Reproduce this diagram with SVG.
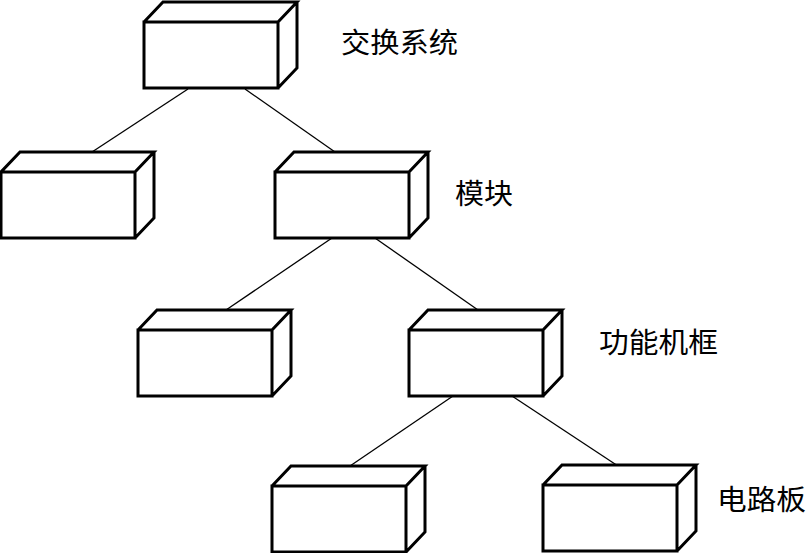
<svg xmlns="http://www.w3.org/2000/svg" xmlns:xlink="http://www.w3.org/1999/xlink" width="808" height="553" viewBox="0 0 808 553">
<style>
.box{fill:#fff;stroke:#000;stroke-width:3;stroke-linejoin:miter}
.conn line{stroke:#000;stroke-width:1.3}
.lbl{font-family:"Noto Sans CJK SC","Noto Sans",sans-serif;font-size:28px;fill:#000}
</style>
<defs>
<path id="cube" class="box" d="M0,0 h134 v66 h-134 z M0,0 l19,-20 h134 l-19,20 M153,-20 v66 l-19,20"/>
</defs>
<rect width="808" height="553" fill="#fff"/>
<g id="connectors" class="conn">
<line x1="188" y1="89" x2="92" y2="152"/>
<line x1="245" y1="89" x2="335" y2="152"/>
<line x1="332" y1="238" x2="226" y2="310"/>
<line x1="375" y1="238" x2="478" y2="310"/>
<line x1="453" y1="396" x2="350" y2="466"/>
<line x1="512" y1="396" x2="618" y2="466"/>
</g>
<g id="node-switch"><use xlink:href="#cube" transform="translate(144,22)"/></g>
<g id="node-l2-left"><use xlink:href="#cube" transform="translate(1,172)"/></g>
<g id="node-module"><use xlink:href="#cube" transform="translate(275,172)"/></g>
<g id="node-l3-left"><use xlink:href="#cube" transform="translate(138,330)"/></g>
<g id="node-rack"><use xlink:href="#cube" transform="translate(409,330)"/></g>
<g id="node-l4-left"><use xlink:href="#cube" transform="translate(272,486)"/></g>
<g id="node-board"><use xlink:href="#cube" transform="translate(543,485)"/></g>
<g id="labels">
<text class="lbl" x="341" y="53" textLength="117" lengthAdjust="spacingAndGlyphs">交换系统</text>
<text class="lbl" x="455" y="204" textLength="58" lengthAdjust="spacingAndGlyphs">模块</text>
<text class="lbl" x="599" y="353" textLength="119" lengthAdjust="spacingAndGlyphs">功能机框</text>
<text class="lbl" x="717" y="510" textLength="89" lengthAdjust="spacingAndGlyphs">电路板</text>
</g>
</svg>
